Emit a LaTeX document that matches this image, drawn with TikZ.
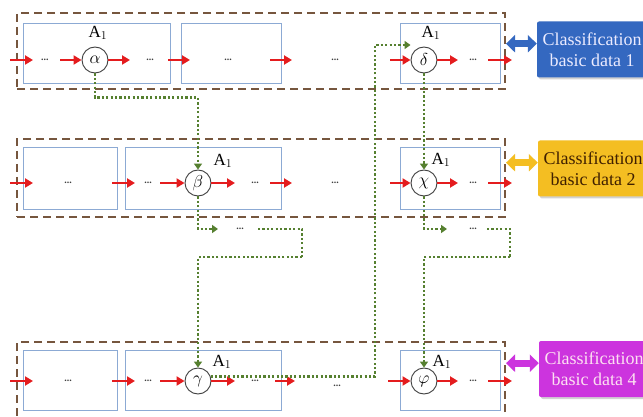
\documentclass[tikz,border=0pt]{standalone}
\usepackage{fontspec}
\setmainfont{Liberation Serif}
\usepackage{tikz}
\usetikzlibrary{arrows.meta,positioning,shadows}
\definecolor{flowcol}{RGB}{228,28,30}
\definecolor{boxcol}{RGB}{140,170,212}
\definecolor{framecol}{RGB}{118,86,62}
\definecolor{linkcol}{RGB}{86,128,48}
\definecolor{classblue}{RGB}{52,104,192}
\definecolor{classgold}{RGB}{244,190,34}
\definecolor{classpink}{RGB}{204,52,222}
\tikzset{
  flow/.style={-{Triangle[length=8pt,width=9pt]},line width=2.8pt,draw=flowcol},
  link/.style={-{Triangle[length=6pt,width=8pt]},line width=2.4pt,draw=linkcol,
    dash pattern=on 2.2pt off 2.2pt},
  biarrow/.style={{Triangle[length=9pt,width=17pt]}-{Triangle[length=9pt,width=17pt]},
    line width=7pt},
  frame/.style={draw=framecol,line width=2pt,dash pattern=on 8pt off 5pt,
    inner sep=0pt},
  cell/.style={draw=boxcol,line width=1pt,inner sep=0pt},
  op/.style={circle,draw=black!75,line width=0.9pt,fill=white,minimum size=26pt,
    inner sep=0pt,font=\fontsize{18}{18}\selectfont},
  gap/.style={inner sep=1pt,font=\fontsize{10}{10}\selectfont\bfseries,text=black!75},
  lab/.style={inner sep=0pt,font=\fontsize{17}{17}\selectfont},
  classbox/.style={rounded corners=2pt,minimum width=110pt,minimum height=56pt,
    align=center,font=\fontsize{18}{21}\selectfont,
    drop shadow={opacity=0.35,shadow xshift=2pt,shadow yshift=-2pt}}
}
\begin{document}
\begin{tikzpicture}[x=1pt,y=-1pt]
  \useasboundingbox[fill=white] (0,0) rectangle (643,417);
  % layers
  \node[frame,minimum width=488pt,minimum height=76pt] (F1) at (261,51) {};
  \node[frame,minimum width=488pt,minimum height=78pt] (F2) at (261,178) {};
  \node[frame,minimum width=488pt,minimum height=76pt] (F4) at (261,380) {};
  \node[cell,minimum width=147pt,minimum height=60pt] (B11) at (96.5,54) {};
  \node[cell,minimum width=100pt,minimum height=60pt] (B12) at (231,54) {};
  \node[cell,minimum width=100pt,minimum height=60pt] (B13) at (450,54) {};
  \node[cell,minimum width=94pt,minimum height=62pt] (B21) at (70,179) {};
  \node[cell,minimum width=156pt,minimum height=62pt] (B22) at (203,179) {};
  \node[cell,minimum width=100pt,minimum height=62pt] (B23) at (450,179) {};
  \node[cell,minimum width=94pt,minimum height=60pt] (B41) at (70,380) {};
  \node[cell,minimum width=156pt,minimum height=60pt] (B42) at (203,380) {};
  \node[cell,minimum width=100pt,minimum height=60pt] (B43) at (450,380) {};
  % operators
  \node[op] (alpha) at (95,60) {$\alpha$};
  \node[op] (delta) at (424,60) {$\delta$};
  \node[op] (beta) at (198,183) {$\beta$};
  \node[op] (chi) at (424,183) {$\chi$};
  \node[op] (gamma) at (198,381) {$\gamma$};
  \node[op] (phi) at (424,381) {$\varphi$};
  \node[lab] at ([xshift=3pt,yshift=27pt]alpha) {A$_1$};
  \node[lab] at ([xshift=7pt,yshift=27pt]delta) {A$_1$};
  \node[lab] at ([xshift=25pt,yshift=22pt]beta) {A$_1$};
  \node[lab] at ([xshift=17pt,yshift=23pt]chi) {A$_1$};
  \node[lab] at ([xshift=24pt,yshift=19pt]gamma) {A$_1$};
  \node[lab] at ([xshift=18pt,yshift=19pt]phi) {A$_1$};
  % gaps
  \node[gap] (d11) at (45,60) {...};
  \node[gap] (d12) at (150,60) {...};
  \node[gap] (d13) at (228,60) {...};
  \node[gap] (d14) at (335,60) {...};
  \node[gap] (d15) at (473,60) {...};
  \node[gap] (d21) at (68,183) {...};
  \node[gap] (d22) at (148,183) {...};
  \node[gap] (d23) at (255,183) {...};
  \node[gap] (d24) at (335,183) {...};
  \node[gap] (d25) at (473,183) {...};
  \node[gap] (d41) at (68,381) {...};
  \node[gap] (d42) at (148,381) {...};
  \node[gap] (d43) at (255,381) {...};
  \node[gap] (d44) at (337,386) {...};
  \node[gap] (d45) at (473,381) {...};
  \node[gap] (g1) at (240,229) {...};
  \node[gap] (g2) at (473,229) {...};
  \coordinate (in1) at (10,60);
  \coordinate (out1) at (512,60);
  \coordinate (in2) at (10,183);
  \coordinate (out2) at (512,183);
  \coordinate (in4) at (10,381);
  \coordinate (out4) at (512,381);
  \coordinate (k1) at (302,257);
  \coordinate (k2) at (510,257);
  \coordinate (k3) at (375,45);
  % classification data
  \node[classbox,fill=classblue,text=blue!8] (C1) at (592,49.5)
    {Classification\\basic data 1};
  \node[classbox,fill=classgold,text=black!75!orange] (C2) at (593,168.5)
    {Classification\\basic data 2};
  \node[classbox,fill=classpink,text=magenta!12] (C4) at (594,369)
    {Classification\\basic data 4};
  \draw[biarrow,draw=classblue,fill=classblue] (F1.east |- C1.174) -- (C1.174);
  \draw[biarrow,draw=classgold,fill=classgold] (F2.east |- C2.174) -- (C2.174);
  \draw[biarrow,draw=classpink,fill=classpink] (F4.east |- C4.174) -- (C4.174);
  % row 1
  \draw[flow,shorten >=12pt] (in1) -- (d11.center);
  \draw[flow,shorten <=15pt] (d11.center) -- (alpha);
  \draw[flow,shorten >=20pt] (alpha) -- (d12.center);
  \draw[flow,shorten <=18pt,shorten >=38pt] (d12.center) -- (d13.center);
  \draw[flow,shorten <=42pt,shorten >=43pt] (d13.center) -- (d14.center);
  \draw[flow,shorten <=55pt] (d14.center) -- (delta);
  \draw[flow,shorten >=15pt] (delta) -- (d15.center);
  \draw[flow,shorten <=15pt] (d15.center) -- (out1);
  % row 2
  \draw[flow,shorten >=35pt] (in2) -- (d21.center);
  \draw[flow,shorten <=44pt,shorten >=13pt] (d21.center) -- (d22.center);
  \draw[flow,shorten <=12pt] (d22.center) -- (beta);
  \draw[flow,shorten >=20pt] (beta) -- (d23.center);
  \draw[flow,shorten <=15pt,shorten >=43pt] (d23.center) -- (d24.center);
  \draw[flow,shorten <=55pt] (d24.center) -- (chi);
  \draw[flow,shorten >=15pt] (chi) -- (d25.center);
  \draw[flow,shorten <=15pt] (d25.center) -- (out2);
  % row 4
  \draw[flow,shorten >=35pt] (in4) -- (d41.center);
  \draw[flow,shorten <=44pt,shorten >=13pt] (d41.center) -- (d42.center);
  \draw[flow,shorten <=12pt] (d42.center) -- (gamma);
  \draw[flow,shorten >=20pt] (gamma) -- (d43.center);
  \draw[flow,shorten <=20pt,shorten >=42pt] (d43.center) -- (d44.center |- d43);
  \draw[flow,shorten <=51pt] (d44.center |- phi) -- (phi);
  \draw[flow,shorten >=15pt] (phi) -- (d45.center);
  \draw[flow,shorten <=15pt] (d45.center) -- (out4);
  % dotted links
  \draw[link] (alpha.south) -- ++(0,24) -| (beta.north);
  \draw[link,shorten >=22pt] (beta.south) |- (g1.center);
  \draw[link,-,shorten <=18pt] (g1.center) -| (k1);
  \draw[link] (k1) -| (gamma.north);
  \draw[link] (delta.south) -- (chi.north);
  \draw[link,shorten >=26pt] (chi.south) |- (g2.center);
  \draw[link,-,shorten <=14pt] (g2.center) -| (k2);
  \draw[link] (k2) -| (phi.north);
  \draw[link] (gamma.20) -| (k3) -- (k3 -| delta.west);
\end{tikzpicture}
\end{document}
